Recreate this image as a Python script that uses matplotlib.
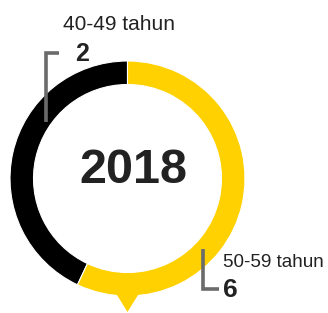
import matplotlib
matplotlib.use("Agg")
import matplotlib.pyplot as plt
from matplotlib.patches import Polygon

# Data
categories = ["40-49 tahun", "50-59 tahun"]
counts = [2, 6]
ring_share = [43, 57]          # share of the ring as drawn in the reference
colors = ["#000000", "#FFD100"]
year_label = "2018"

W, H = 328, 313
fig = plt.figure(figsize=(W / 100, H / 100), dpi=100)
ax = fig.add_axes([0, 0, 1, 1])

cx, cy, r, w = 127.5, H - 178.5, 117.5, 23.5
ax.pie(ring_share, colors=colors, center=(cx, cy), radius=r, startangle=90,
       counterclock=True, wedgeprops=dict(width=w, edgecolor="white", linewidth=0.8))

# pointer triangle at bottom
ax.add_patch(Polygon([(114.5, H - 291), (140.5, H - 291), (127.5, H - 312)],
                     closed=True, facecolor=colors[1], edgecolor="none"))

ax.set_xlim(0, W)
ax.set_ylim(0, H)
ax.set_aspect("equal", adjustable="box")
ax.axis("off")

font = "Liberation Sans"
gray = "#6b6b6b"

# top-left label
ax.text(63, H - 30, categories[0], fontsize=15, family=font, color="#222222",
        ha="left", va="baseline")
ax.text(75, H - 61, str(counts[0]), fontsize=18, family=font, fontweight="bold",
        color="#222222", ha="left", va="baseline")
ax.plot([45.5, 45.5, 59], [H - 122, H - 53, H - 53], color=gray, lw=2.6,
        solid_capstyle="butt", solid_joinstyle="miter")

# bottom-right label
ax.text(223, H - 267, categories[1], fontsize=13.6, family=font, color="#222222",
        ha="left", va="baseline")
ax.text(223, H - 297, str(counts[1]), fontsize=19, family=font, fontweight="bold",
        color="#222222", ha="left", va="baseline")
ax.plot([202.5, 202.5, 219], [H - 249, H - 289, H - 289], color=gray, lw=2.6,
        solid_capstyle="butt", solid_joinstyle="miter")

# centre year
ax.text(133.5, H - 183, year_label, fontsize=35, family=font, fontweight="bold",
        color="#222222", ha="center", va="baseline")

fig.savefig("out.png", dpi=100)
